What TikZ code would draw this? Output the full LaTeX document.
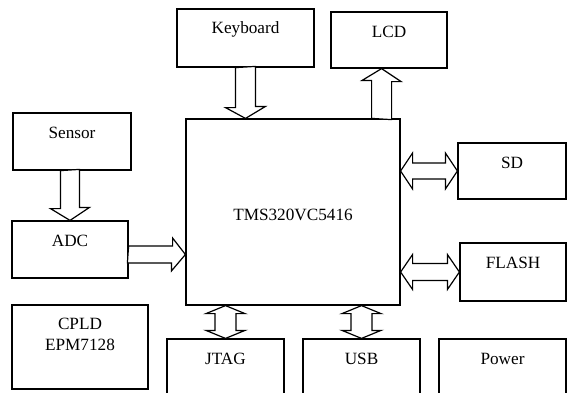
\documentclass[tikz,border=0pt]{standalone}
\usepackage{fontspec}
\setmainfont{Liberation Serif}
\usetikzlibrary{calc,positioning}

\begin{document}
\begin{tikzpicture}[
  x=1pt, y=-1pt,
  font=\fontsize{17.2}{21}\selectfont,
  box/.style={draw, line width=1.2pt, inner sep=0pt},
  tag/.style={anchor=center, yshift=-20.5pt, align=center},
  barrow/.style={draw, line width=1.2pt, fill=white, line join=miter}
]
\useasboundingbox (0,0) rectangle (567,392);
\clip (0,0) rectangle (567,392);
% blocks
\node[box, minimum width=214, minimum height=186, label={[anchor=center, yshift=-2.5pt]center:TMS320VC5416}] (main) at (293,212) {};
\node[box, minimum width=137, minimum height=58, label={[tag]north:Keyboard}] (key) at (245.5,38) {};
\node[box, minimum width=116, minimum height=56, label={[tag]north:LCD}] (lcd) at (389,40) {};
\node[box, minimum width=118, minimum height=57, label={[tag]north:Sensor}] (sensor) at (72,141.5) {};
\node[box, minimum width=116, minimum height=57, label={[tag]north:ADC}] (adc) at (70,249.5) {};
\node[box, minimum width=108, minimum height=56, label={[tag]north:SD}] (sd) at (512,171) {};
\node[box, minimum width=106, minimum height=58, label={[tag]north:FLASH}] (flash) at (513,272) {};
\node[box, minimum width=136, minimum height=84, label={[tag, yshift=-9.5pt]north:CPLD\\EPM7128}] (cpld) at (80,347) {};
\node[box, minimum width=117, minimum height=60, label={[tag]north:JTAG}] (jtag) at (225.5,369) {};
\node[box, minimum width=117, minimum height=60, label={[tag]north:USB}] (usb) at (361.5,369) {};
\node[box, minimum width=127, minimum height=60, label={[tag]north:Power}] (power) at (502.5,369) {};
% helper points
\coordinate (lcdfoot) at ($(main.north east)+(-19,0)$);
\coordinate (adcout) at ($(adc.east)+(0,5)$);
\coordinate (sdL) at (main.east |- sd.west);
\coordinate (flashL) at (main.east |- flash.west);
\coordinate (jtagT) at (main.south -| jtag.north);
\coordinate (usbT) at (main.south -| usb.north);
% single block arrows
\draw[barrow] ($(key.south)+(-10,0)$) -- ++(0,40) -- ++(-10,0) -- (key.south |- main.north)
  -- ++(20,-12) -- ++(-10,0) -- ++(0,-40) -- cycle;
\draw[barrow] ($(lcdfoot)+(-10,0)$) -- ++(0,-38) -- ++(-9.5,0) -- (lcdfoot |- lcd.south)
  -- ++(19.5,13) -- ++(-9.5,0) -- ++(0,38) -- cycle;
\draw[barrow] ($(adc.north |- sensor.south)+(-9.5,0)$) -- ++(0,38) -- ++(-10,0) -- (adc.north)
  -- ++(19.5,-13) -- ++(-10,0) -- ++(0,-38) -- cycle;
\draw[barrow] ($(adcout)+(0,-8.5)$) -- ++(44,0) -- ++(0,-8) -- (adcout -| main.west)
  -- ++(-14,16.5) -- ++(0,-8) -- ++(-44,0) -- cycle;
% double block arrows
\draw[barrow] (sdL) -- ++(12,-18) -- ++(0,10) -- ($(sd.west)+(-12,-8)$) -- ++(0,-10) -- (sd.west)
  -- ++(-12,18) -- ++(0,-10) -- ($(sdL)+(12,8)$) -- ++(0,10) -- cycle;
\draw[barrow] (flashL) -- ++(12,-17.5) -- ++(0,9) -- ($(flash.west)+(-12,-8.5)$) -- ++(0,-9) -- (flash.west)
  -- ++(-12,17.5) -- ++(0,-9) -- ($(flashL)+(12,8.5)$) -- ++(0,9) -- cycle;
\draw[barrow] (jtagT) -- ++(19.5,8) -- ++(-9,0) -- ($(jtag.north)+(10.5,-8)$) -- ++(9,0) -- (jtag.north)
  -- ++(-19.5,-8) -- ++(9,0) -- ($(jtagT)+(-10.5,8)$) -- ++(-9,0) -- cycle;
\draw[barrow] (usbT) -- ++(19.5,8) -- ++(-9,0) -- ($(usb.north)+(10.5,-8)$) -- ++(9,0) -- (usb.north)
  -- ++(-19.5,-8) -- ++(9,0) -- ($(usbT)+(-10.5,8)$) -- ++(-9,0) -- cycle;
\end{tikzpicture}
\end{document}
